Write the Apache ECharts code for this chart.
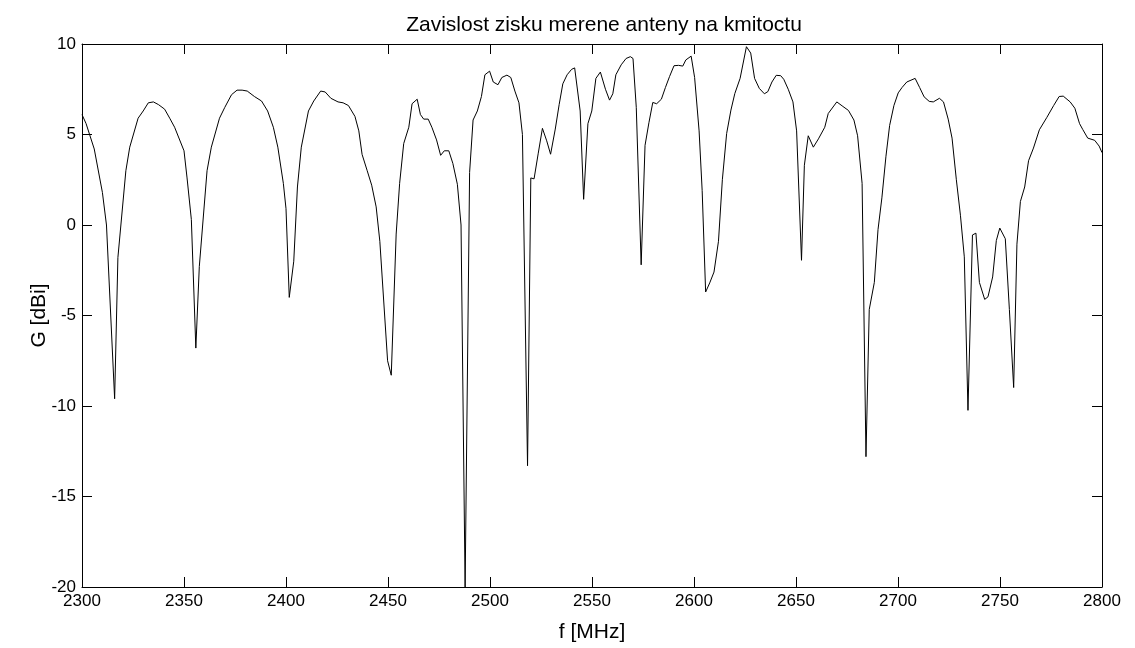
<!DOCTYPE html>
<html>
<head>
<meta charset="utf-8">
<script src="https://cdn.jsdelivr.net/npm/echarts@6/dist/echarts.min.js"></script>
<style>
html,body{margin:0;padding:0;background:#fff;}
#chart{width:1135px;height:648px;}
</style>
</head>
<body>
<div id="chart"></div>
<script>
const titleText = 'Zavislost zisku merene anteny na kmitoctu';
const xName = 'f [MHz]';
const yName = 'G [dBi]';

const freq = [
2300,2302,2306,2310,2312,2316,2317.6,2321.5,2323.4,2327.5,2330,2332.5,2335,2337.5,2340.5,2343,2345.4,2350,2351.5,2353.6,
2355.8,2357.5,2361.3,2363.4,2367.4,2370,2373.3,2376,2378.5,2381,2384.5,2388,2391,2393.8,2396,2398.7,2400,2401.6,2403.8,2405.6,
2407.5,2411,2413.6,2417,2419.2,2422,2425.5,2428,2430.6,2433.8,2435.7,2437.3,2439.8,2442,2444.2,2446,2449.8,2451.6,2454,2455.7,
2457.7,2460.2,2461.8,2464.3,2465.9,2467.5,2469.7,2471.5,2473.8,2475.8,2477.6,2479.8,2481.8,2484,2485.8,2487.8,2490,2491.7,2493.8,2495.8,
2497.5,2499.8,2501.6,2503.9,2505.8,2508.3,2510.2,2512.2,2514.2,2515.9,2518.4,2520,2521.6,2523.6,2525.7,2527.8,2529.7,2532,2533.9,2535.7,
2537.8,2540,2541.5,2544.2,2545.9,2548,2549.9,2551.9,2554.1,2556.6,2558.6,2560.2,2561.7,2564.3,2566.7,2568.8,2570.1,2571.7,2574.1,2576,
2577.9,2579.8,2581.7,2584,2586,2588,2590.2,2592.4,2594.5,2596,2598.6,2600.3,2602.5,2604,2605.7,2607.7,2609.8,2612,2613.9,2616,
2618.1,2620,2622.6,2625.7,2627.8,2629.7,2632,2634.5,2636.2,2638.2,2640.3,2642.5,2644,2646.2,2648.5,2650.3,2652.7,2654.1,2656,2658.5,
2661,2664.1,2665.8,2670,2673,2675.7,2678.4,2680.2,2682.4,2684.3,2685.9,2688.4,2690.2,2692.1,2694.1,2695.9,2698,2700.1,2702,2704.3,
2708.4,2710.6,2712.8,2715.3,2717.3,2720.3,2722.3,2724.6,2726.5,2728.6,2730.6,2732.5,2734.3,2736.5,2738.2,2739.9,2742.5,2744.1,2746.4,2748.2,
2749.9,2752.6,2754.6,2756.7,2758.3,2760,2762.1,2764,2766.4,2769.3,2773,2776.3,2779,2781,2784.4,2786.7,2789,2790.6,2793,2796.4,
2798.6,2800
];

const gain = [
6.1,5.6,4.2,1.8,0.0,-9.6,-1.8,3.0,4.3,5.9,6.3,6.75,6.8,6.65,6.4,5.9,5.4,4.1,2.6,0.3,
-6.8,-2.3,3.0,4.3,5.9,6.5,7.2,7.45,7.45,7.4,7.1,6.85,6.3,5.4,4.3,2.3,0.9,-4.0,-2.0,2.1,
4.3,6.3,6.85,7.4,7.35,7.0,6.8,6.75,6.6,6.0,5.2,3.9,3.0,2.2,1.0,-0.9,-7.5,-8.3,-0.5,2.3,
4.5,5.4,6.7,6.95,6.1,5.85,5.85,5.4,4.7,3.85,4.1,4.1,3.4,2.25,0.0,-20,2.9,5.8,6.3,7.1,
8.3,8.5,7.9,7.75,8.15,8.28,8.15,7.4,6.75,5.0,-13.3,2.6,2.55,3.93,5.34,4.65,3.91,5.3,6.65,7.8,
8.3,8.6,8.68,6.3,1.42,5.6,6.3,8.1,8.45,7.5,6.9,7.25,8.3,8.85,9.2,9.3,9.2,6.5,-2.2,4.4,
5.65,6.77,6.7,6.95,7.6,8.2,8.8,8.82,8.78,9.12,9.33,8.15,5.2,1.9,-3.7,-3.2,-2.6,-0.9,2.5,5.05,
6.35,7.26,8.1,9.85,9.5,8.1,7.55,7.25,7.37,7.9,8.27,8.25,8.05,7.5,6.8,5.2,-1.95,3.3,4.93,4.3,
4.76,5.4,6.16,6.8,6.55,6.33,5.8,4.93,2.3,-12.8,-4.67,-3.17,-0.26,1.5,3.8,5.5,6.6,7.3,7.6,7.9,
8.1,7.6,7.08,6.83,6.8,7.0,6.8,5.85,4.8,2.5,0.54,-1.76,-10.24,-0.55,-0.45,-3.17,-4.11,-3.97,-2.87,-0.86,
-0.17,-0.76,-4.67,-8.98,-1.06,1.3,2.1,3.55,4.25,5.26,5.95,6.6,7.1,7.12,6.8,6.45,5.6,5.27,4.8,4.68,
4.36,4.0
];

const seriesData = freq.map((f, i) => [f, gain[i]]);

const chart = echarts.init(document.getElementById('chart'), null, {renderer: 'canvas'});
const font = "'Liberation Sans', Arial, sans-serif";
const axisLine = {show: true, onZero: false, lineStyle: {color: '#000', width: 1}};
const tick = {show: true, inside: true, length: 10, lineStyle: {color: '#000', width: 1}};
const plain = v => String(v);

chart.setOption({
  animation: false,
  backgroundColor: '#fff',
  title: {
    text: titleText,
    left: 599,
    top: 10,
    textAlign: 'center',
    textStyle: {fontFamily: font, fontSize: 21, fontWeight: 'normal', color: '#000'}
  },
  grid: {left: 82, right: 33, top: 44, bottom: 60, containLabel: false},
  xAxis: [
    {
      type: 'value', min: 2300, max: 2800, interval: 50, position: 'bottom',
      name: xName, nameLocation: 'middle', nameGap: 35,
      nameTextStyle: {fontFamily: font, fontSize: 21, color: '#000'},
      axisLine: axisLine, axisTick: tick,
      axisLabel: {fontFamily: font, fontSize: 17, color: '#000', margin: 6, formatter: plain},
      splitLine: {show: false}
    },
    {
      type: 'value', min: 2300, max: 2800, interval: 50, position: 'top',
      axisLine: axisLine, axisTick: tick,
      axisLabel: {show: false}, splitLine: {show: false}
    }
  ],
  yAxis: [
    {
      type: 'value', min: -20, max: 10, interval: 5, position: 'left',
      name: yName, nameLocation: 'middle', nameGap: 32, nameRotate: 90,
      nameMoveOverlap: false,
      nameTextStyle: {fontFamily: font, fontSize: 21, color: '#000'},
      axisLine: axisLine, axisTick: tick,
      axisLabel: {fontFamily: font, fontSize: 17, color: '#000', margin: 6, formatter: plain},
      splitLine: {show: false}
    },
    {
      type: 'value', min: -20, max: 10, interval: 5, position: 'right',
      axisLine: axisLine, axisTick: tick,
      axisLabel: {show: false}, splitLine: {show: false}
    }
  ],
  series: [{
    type: 'line',
    data: seriesData,
    xAxisIndex: 0,
    yAxisIndex: 0,
    showSymbol: false,
    symbol: 'none',
    clip: true,
    lineStyle: {color: '#000', width: 1},
    silent: true
  }]
});
</script>
</body>
</html>
